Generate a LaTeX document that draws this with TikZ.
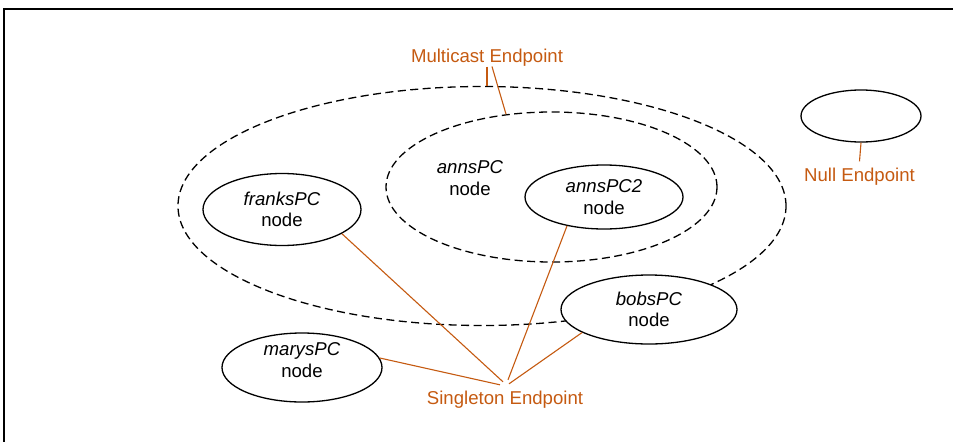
\documentclass[tikz,border=0pt]{standalone}
\usepackage{fontspec}
\setmainfont{Liberation Sans}
\usepackage{xcolor}
\usetikzlibrary{shapes,positioning,calc}
\definecolor{endpt}{RGB}{197,90,17}

\begin{document}
\begin{tikzpicture}[x=1pt, y=-1pt,
    pc/.style={draw, fill=white, ellipse, line width=1.3pt, inner sep=0pt, align=center,
      font=\fontsize{18.6}{21.5}\selectfont},
    group/.style={pc, dash pattern=on 8pt off 4.5pt},
    pctext/.style={align=center, font=\fontsize{18.6}{21.5}\selectfont},
    eplabel/.style={text=endpt, inner xsep=1pt, font=\fontsize{18.6}{21.5}\selectfont},
    eplink/.style={draw=endpt, line width=1.1pt}]
  \useasboundingbox (0,0) rectangle (953,442);
  \draw [line width=2.3pt] (953,9) -- (4.2,9) -- (4.2,442);
  \node [group, minimum width=608, minimum height=239] (outer) at (482,206) {};
  \node [group, minimum width=331, minimum height=150] (anns) at (551.5,187) {};
  \node [pctext] (annstext) at (470,178) {\textit{annsPC}\\node};
  \node [pc, minimum width=158, minimum height=64] (anns2) at (604,197) {\textit{annsPC2}\\node};
  \node [pc, minimum width=158, minimum height=72] (franks) at (282,209.5) {\textit{franksPC}\\node};
  \node [pc, minimum width=176, minimum height=69] (bobs) at (649,309.5) {\textit{bobsPC}\\node};
  \node [pc, minimum width=160, minimum height=69] (marys) at (302,367.5) {};
  \node [pctext] (marystext) at (302,360) {\textit{marysPC}\\node};
  \node [pc, minimum width=120, minimum height=52] (nullep) at (861,116) {};
  \node [eplabel, inner ysep=0.5pt, anchor=base] (multi) at (487,62) {Multicast Endpoint};
  \node [eplabel, inner ysep=5.5pt, anchor=base] (single) at (505,404) {Singleton Endpoint};
  \node [eplabel, inner ysep=6pt, anchor=base] (nulllab) at (859.5,181) {Null Endpoint};
  \draw [eplink] (multi.south) -- (multi.south |- outer.north);
  \draw [eplink] ($(multi.south)+(5,0)$) -- (anns.122);
  \draw [eplink] (nullep.south) -- (nulllab.north);
  \draw [eplink] (marys.7) -- ($(single.north)+(-5,0)$);
  \draw [eplink] (franks.-22) -- ($(single.north)+(-2,-3)$);
  \draw [eplink] (anns2.-142) -- ($(single.north)+(3,-5)$);
  \draw [eplink] (bobs.-161) -- ($(single.north)+(4,-1)$);
\end{tikzpicture}
\end{document}
